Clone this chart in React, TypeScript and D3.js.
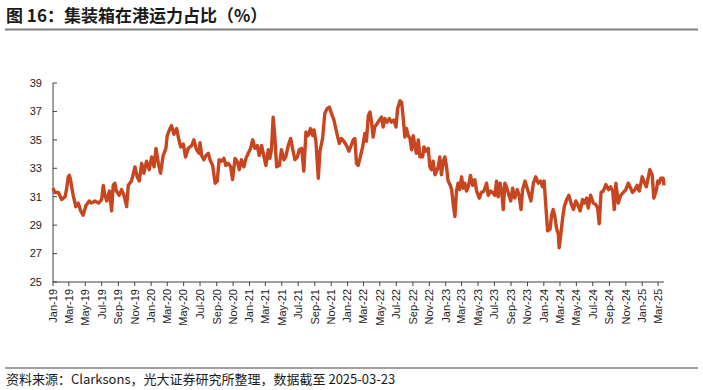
import * as d3 from "d3"

// 集装箱在港运力占比（%）
const data2019: [string, number][] = [
  ["2019-01-01", 31.6], ["2019-01-08", 31.3], ["2019-01-21", 31.3], ["2019-02-02", 30.8],
  ["2019-02-15", 31.0], ["2019-02-21", 31.6], ["2019-02-27", 32.4], ["2019-03-03", 32.5],
  ["2019-03-07", 32.2], ["2019-03-17", 31.1], ["2019-03-27", 30.3], ["2019-04-05", 30.55],
  ["2019-04-14", 30.0], ["2019-04-23", 29.7], ["2019-05-04", 30.4], ["2019-05-16", 30.7],
  ["2019-05-24", 30.55], ["2019-06-06", 30.7], ["2019-06-19", 30.55], ["2019-07-01", 30.8],
  ["2019-07-07", 31.8], ["2019-07-13", 31.1], ["2019-07-20", 30.7], ["2019-07-30", 31.4],
  ["2019-08-07", 30.0], ["2019-08-13", 31.8], ["2019-08-19", 31.95], ["2019-08-25", 31.4],
  ["2019-09-04", 31.1], ["2019-09-13", 31.5], ["2019-09-22", 31.1], ["2019-10-02", 30.3],
  ["2019-10-08", 31.8], ["2019-10-20", 32.1], ["2019-11-02", 33.1], ["2019-11-10", 32.4],
  ["2019-11-18", 32.1], ["2019-11-27", 33.35], ["2019-12-05", 32.65], ["2019-12-15", 33.5],
  ["2019-12-25", 32.9],
]

const data2020: [string, number][] = [
  ["2020-01-03", 33.8], ["2020-01-12", 33.1], ["2020-01-19", 34.4], ["2020-01-28", 33.35],
  ["2020-02-05", 32.65], ["2020-02-15", 33.9], ["2020-02-25", 34.4], ["2020-03-01", 35.3],
  ["2020-03-11", 35.8], ["2020-03-17", 36.0], ["2020-03-26", 35.4], ["2020-04-05", 35.8],
  ["2020-04-11", 35.2], ["2020-04-20", 34.5], ["2020-04-30", 34.7], ["2020-05-08", 33.8],
  ["2020-05-18", 34.4], ["2020-05-31", 34.6], ["2020-06-08", 35.0], ["2020-06-18", 34.3],
  ["2020-06-28", 34.05], ["2020-07-01", 34.8], ["2020-07-07", 33.9], ["2020-07-15", 33.6],
  ["2020-07-23", 33.9], ["2020-08-01", 34.05], ["2020-08-07", 33.6], ["2020-08-17", 33.2],
  ["2020-08-26", 31.95], ["2020-09-03", 32.1], ["2020-09-10", 33.6], ["2020-09-19", 33.5],
  ["2020-09-28", 33.7], ["2020-10-05", 33.2], ["2020-10-14", 33.35], ["2020-10-23", 33.1],
  ["2020-10-30", 32.2], ["2020-11-08", 33.7], ["2020-11-16", 33.5], ["2020-11-24", 32.9],
  ["2020-12-02", 33.6], ["2020-12-11", 33.1], ["2020-12-19", 33.7], ["2020-12-27", 34.05],
]

const data2021: [string, number][] = [
  ["2021-01-05", 34.4], ["2021-01-13", 35.0], ["2021-01-21", 34.4], ["2021-01-30", 34.6],
  ["2021-02-06", 33.9], ["2021-02-15", 34.6], ["2021-02-24", 33.8], ["2021-03-03", 33.2],
  ["2021-03-12", 34.3], ["2021-03-18", 33.7], ["2021-03-24", 34.4], ["2021-03-30", 36.6],
  ["2021-04-05", 35.3], ["2021-04-12", 33.1], ["2021-04-22", 33.2], ["2021-04-30", 34.3],
  ["2021-05-09", 33.6], ["2021-05-16", 33.8], ["2021-05-25", 34.6], ["2021-06-03", 35.1],
  ["2021-06-10", 34.4], ["2021-06-19", 33.6], ["2021-06-28", 33.8], ["2021-07-05", 34.3],
  ["2021-07-14", 34.4], ["2021-07-22", 32.8], ["2021-07-30", 35.55], ["2021-08-07", 35.3],
  ["2021-08-16", 35.8], ["2021-08-24", 35.3], ["2021-08-29", 35.7], ["2021-09-05", 34.9],
  ["2021-09-14", 32.3], ["2021-09-20", 34.2], ["2021-09-30", 35.1], ["2021-10-08", 36.85],
  ["2021-10-17", 37.2], ["2021-10-25", 37.3], ["2021-11-02", 36.85], ["2021-11-11", 36.4],
  ["2021-11-21", 35.55], ["2021-12-01", 34.75], ["2021-12-09", 35.1], ["2021-12-18", 34.9],
  ["2021-12-28", 34.6],
]

const data2022: [string, number][] = [
  ["2022-01-06", 34.2], ["2022-01-22", 35.0], ["2022-01-28", 35.1], ["2022-02-03", 33.35],
  ["2022-02-09", 33.2], ["2022-02-16", 33.7], ["2022-02-26", 34.5], ["2022-03-06", 35.45],
  ["2022-03-12", 34.9], ["2022-03-19", 36.7], ["2022-03-25", 36.95], ["2022-03-31", 36.25],
  ["2022-04-06", 35.2], ["2022-04-12", 35.9], ["2022-04-21", 36.15], ["2022-04-29", 36.4],
  ["2022-05-07", 36.6], ["2022-05-13", 35.9], ["2022-05-20", 36.5], ["2022-05-28", 36.25],
  ["2022-06-05", 36.5], ["2022-06-13", 36.25], ["2022-06-22", 36.4], ["2022-06-30", 35.9],
  ["2022-07-06", 37.2], ["2022-07-15", 37.75], ["2022-07-21", 37.65], ["2022-07-27", 36.5],
  ["2022-08-02", 35.2], ["2022-08-08", 35.8], ["2022-08-14", 35.3], ["2022-08-21", 35.1],
  ["2022-08-27", 34.3], ["2022-09-02", 35.3], ["2022-09-08", 34.6], ["2022-09-14", 34.05],
  ["2022-09-21", 35.0], ["2022-09-27", 33.8], ["2022-10-07", 33.8], ["2022-10-12", 34.5],
  ["2022-10-19", 34.2], ["2022-10-28", 34.4], ["2022-11-03", 33.1], ["2022-11-09", 32.9],
  ["2022-11-15", 33.5], ["2022-11-22", 32.55], ["2022-11-28", 32.8], ["2022-12-04", 33.1],
  ["2022-12-10", 33.8], ["2022-12-16", 32.55], ["2022-12-23", 33.5], ["2022-12-29", 33.8],
]

const data2023: [string, number][] = [
  ["2023-01-04", 33.1], ["2023-01-10", 32.1], ["2023-01-17", 31.85], ["2023-01-23", 31.5],
  ["2023-01-29", 30.45], ["2023-02-04", 29.6], ["2023-02-10", 31.4], ["2023-02-16", 31.95],
  ["2023-02-22", 31.5], ["2023-03-01", 32.4], ["2023-03-07", 31.6], ["2023-03-13", 31.95],
  ["2023-03-19", 31.4], ["2023-03-26", 31.7], ["2023-04-03", 32.5], ["2023-04-11", 31.8],
  ["2023-04-19", 32.2], ["2023-04-26", 31.4], ["2023-05-06", 30.9], ["2023-05-14", 31.3],
  ["2023-05-23", 31.4], ["2023-06-02", 31.95], ["2023-06-08", 31.1], ["2023-06-17", 31.4],
  ["2023-06-24", 31.3], ["2023-07-03", 31.1], ["2023-07-09", 32.1], ["2023-07-15", 31.0],
  ["2023-07-22", 31.95], ["2023-07-28", 31.4], ["2023-08-03", 30.1], ["2023-08-09", 31.95],
  ["2023-08-15", 31.7], ["2023-08-24", 31.1], ["2023-08-31", 30.7], ["2023-09-07", 31.6],
  ["2023-09-15", 30.9], ["2023-09-24", 31.5], ["2023-10-01", 31.1], ["2023-10-08", 30.1],
  ["2023-10-14", 31.5], ["2023-10-23", 32.1], ["2023-10-31", 31.6], ["2023-11-08", 31.1],
  ["2023-11-14", 30.7], ["2023-11-23", 31.95], ["2023-12-02", 32.4], ["2023-12-11", 31.95],
  ["2023-12-20", 32.1], ["2023-12-27", 31.7],
]

const data2024: [string, number][] = [
  ["2024-01-02", 32.1], ["2024-01-09", 30.2], ["2024-01-15", 28.6], ["2024-01-24", 28.7],
  ["2024-01-30", 29.75], ["2024-02-05", 30.1], ["2024-02-11", 29.6], ["2024-02-17", 28.8],
  ["2024-02-24", 28.35], ["2024-02-27", 27.4], ["2024-03-04", 28.35], ["2024-03-11", 29.5],
  ["2024-03-17", 30.3], ["2024-03-26", 30.8], ["2024-04-03", 31.1], ["2024-04-11", 30.55],
  ["2024-04-20", 30.1], ["2024-04-29", 30.7], ["2024-05-06", 30.45], ["2024-05-15", 30.0],
  ["2024-05-24", 30.8], ["2024-05-31", 30.55], ["2024-06-08", 30.9], ["2024-06-14", 30.2],
  ["2024-06-23", 31.1], ["2024-07-03", 30.55], ["2024-07-12", 30.45], ["2024-07-19", 30.2],
  ["2024-07-25", 29.1], ["2024-08-01", 31.3], ["2024-08-09", 31.4], ["2024-08-19", 31.85],
  ["2024-08-28", 31.5], ["2024-09-05", 31.7], ["2024-09-13", 31.4], ["2024-09-19", 30.1],
  ["2024-09-25", 31.95], ["2024-10-04", 30.55], ["2024-10-13", 31.1], ["2024-10-23", 31.3],
  ["2024-11-01", 31.5], ["2024-11-10", 31.95], ["2024-11-19", 31.6], ["2024-11-26", 31.3],
  ["2024-12-05", 31.5], ["2024-12-13", 31.8], ["2024-12-21", 31.4],
]

const data2025: [string, number][] = [
  ["2025-01-01", 32.4], ["2025-01-07", 32.1], ["2025-01-16", 31.7], ["2025-01-23", 32.3],
  ["2025-01-29", 32.9], ["2025-02-07", 32.55], ["2025-02-13", 30.9], ["2025-02-22", 31.4],
  ["2025-02-28", 32.1], ["2025-03-05", 31.95], ["2025-03-11", 32.3], ["2025-03-20", 32.3],
  ["2025-03-23", 31.8],
]

const yTicks = [25, 27, 29, 31, 33, 35, 37, 39]
const title = "图 16：集装箱在港运力占比（%）"
const source = "资料来源：Clarksons，光大证券研究所整理，数据截至 2025-03-23"

const W = 703
const H = 390
const margin = { left: 53, right: 39, top: 83, bottom: 108 }
const lineColor = "#C8461F"
const axisColor = "#404040"

export default function App() {
  const parse = d3.timeParse("%Y-%m-%d")
  const series = [...data2019, ...data2020, ...data2021, ...data2022, ...data2023, ...data2024, ...data2025]
    .map(([d, v]) => ({ date: parse(d) as Date, value: v }))

  const x = d3
    .scaleTime()
    .domain([parse("2019-01-01") as Date, parse("2025-03-23") as Date])
    .range([margin.left, W - margin.right])
  const y = d3
    .scaleLinear()
    .domain([25, 39])
    .range([H - margin.bottom, margin.top])

  const line = d3
    .line<{ date: Date; value: number }>()
    .x((d) => x(d.date))
    .y((d) => y(d.value))

  const xTicks = d3.timeMonth.every(2)!.range(parse("2019-01-01") as Date, parse("2025-03-02") as Date)
  const fmt = d3.timeFormat("%b-%y")
  const y0 = y(25)

  return (
    <svg
      width={W}
      height={H}
      style={{ position: "absolute", left: 0, top: 0, background: "#fff" }}
      fontFamily="'Liberation Sans', Arial, sans-serif"
    >
      <text x={6} y={22} fontSize={17} fontWeight="bold" fill="#1a1a1a" fontFamily="'Noto Sans CJK SC', sans-serif">
        {title}
      </text>
      <line x1={5} x2={698} y1={29.5} y2={29.5} stroke="#808080" strokeWidth={2} />

      {/* y 轴 */}
      <line x1={margin.left} x2={margin.left} y1={y(39)} y2={y0} stroke={axisColor} strokeWidth={1} />
      {yTicks.map((t) => (
        <g key={t}>
          <line x1={margin.left} x2={margin.left + 4} y1={y(t)} y2={y(t)} stroke={axisColor} />
          <text x={margin.left - 11} y={y(t)} dy="0.35em" textAnchor="end" fontSize={11} fill="#222">
            {t}
          </text>
        </g>
      ))}

      {/* x 轴 */}
      <line x1={margin.left} x2={W - margin.right} y1={y0} y2={y0} stroke={axisColor} strokeWidth={1} />
      {xTicks.map((d) => (
        <g key={d.getTime()}>
          <line x1={x(d)} x2={x(d)} y1={y0} y2={y0 + 4} stroke={axisColor} />
          <text
            transform={`translate(${x(d)},${y0 + 7}) rotate(-90)`}
            dy="0.35em"
            textAnchor="end"
            fontSize={11}
            fill="#222"
          >
            {fmt(d)}
          </text>
        </g>
      ))}

      <path d={line(series) ?? ""} fill="none" stroke={lineColor} strokeWidth={3.4} strokeLinejoin="round" />

      <line x1={5} x2={698} y1={368} y2={368} stroke="#808080" strokeWidth={1.5} />
      <text x={6} y={384} fontSize={13} fill="#1a1a1a" fontFamily="'Noto Sans CJK SC', sans-serif">
        {source}
      </text>
    </svg>
  )
}
